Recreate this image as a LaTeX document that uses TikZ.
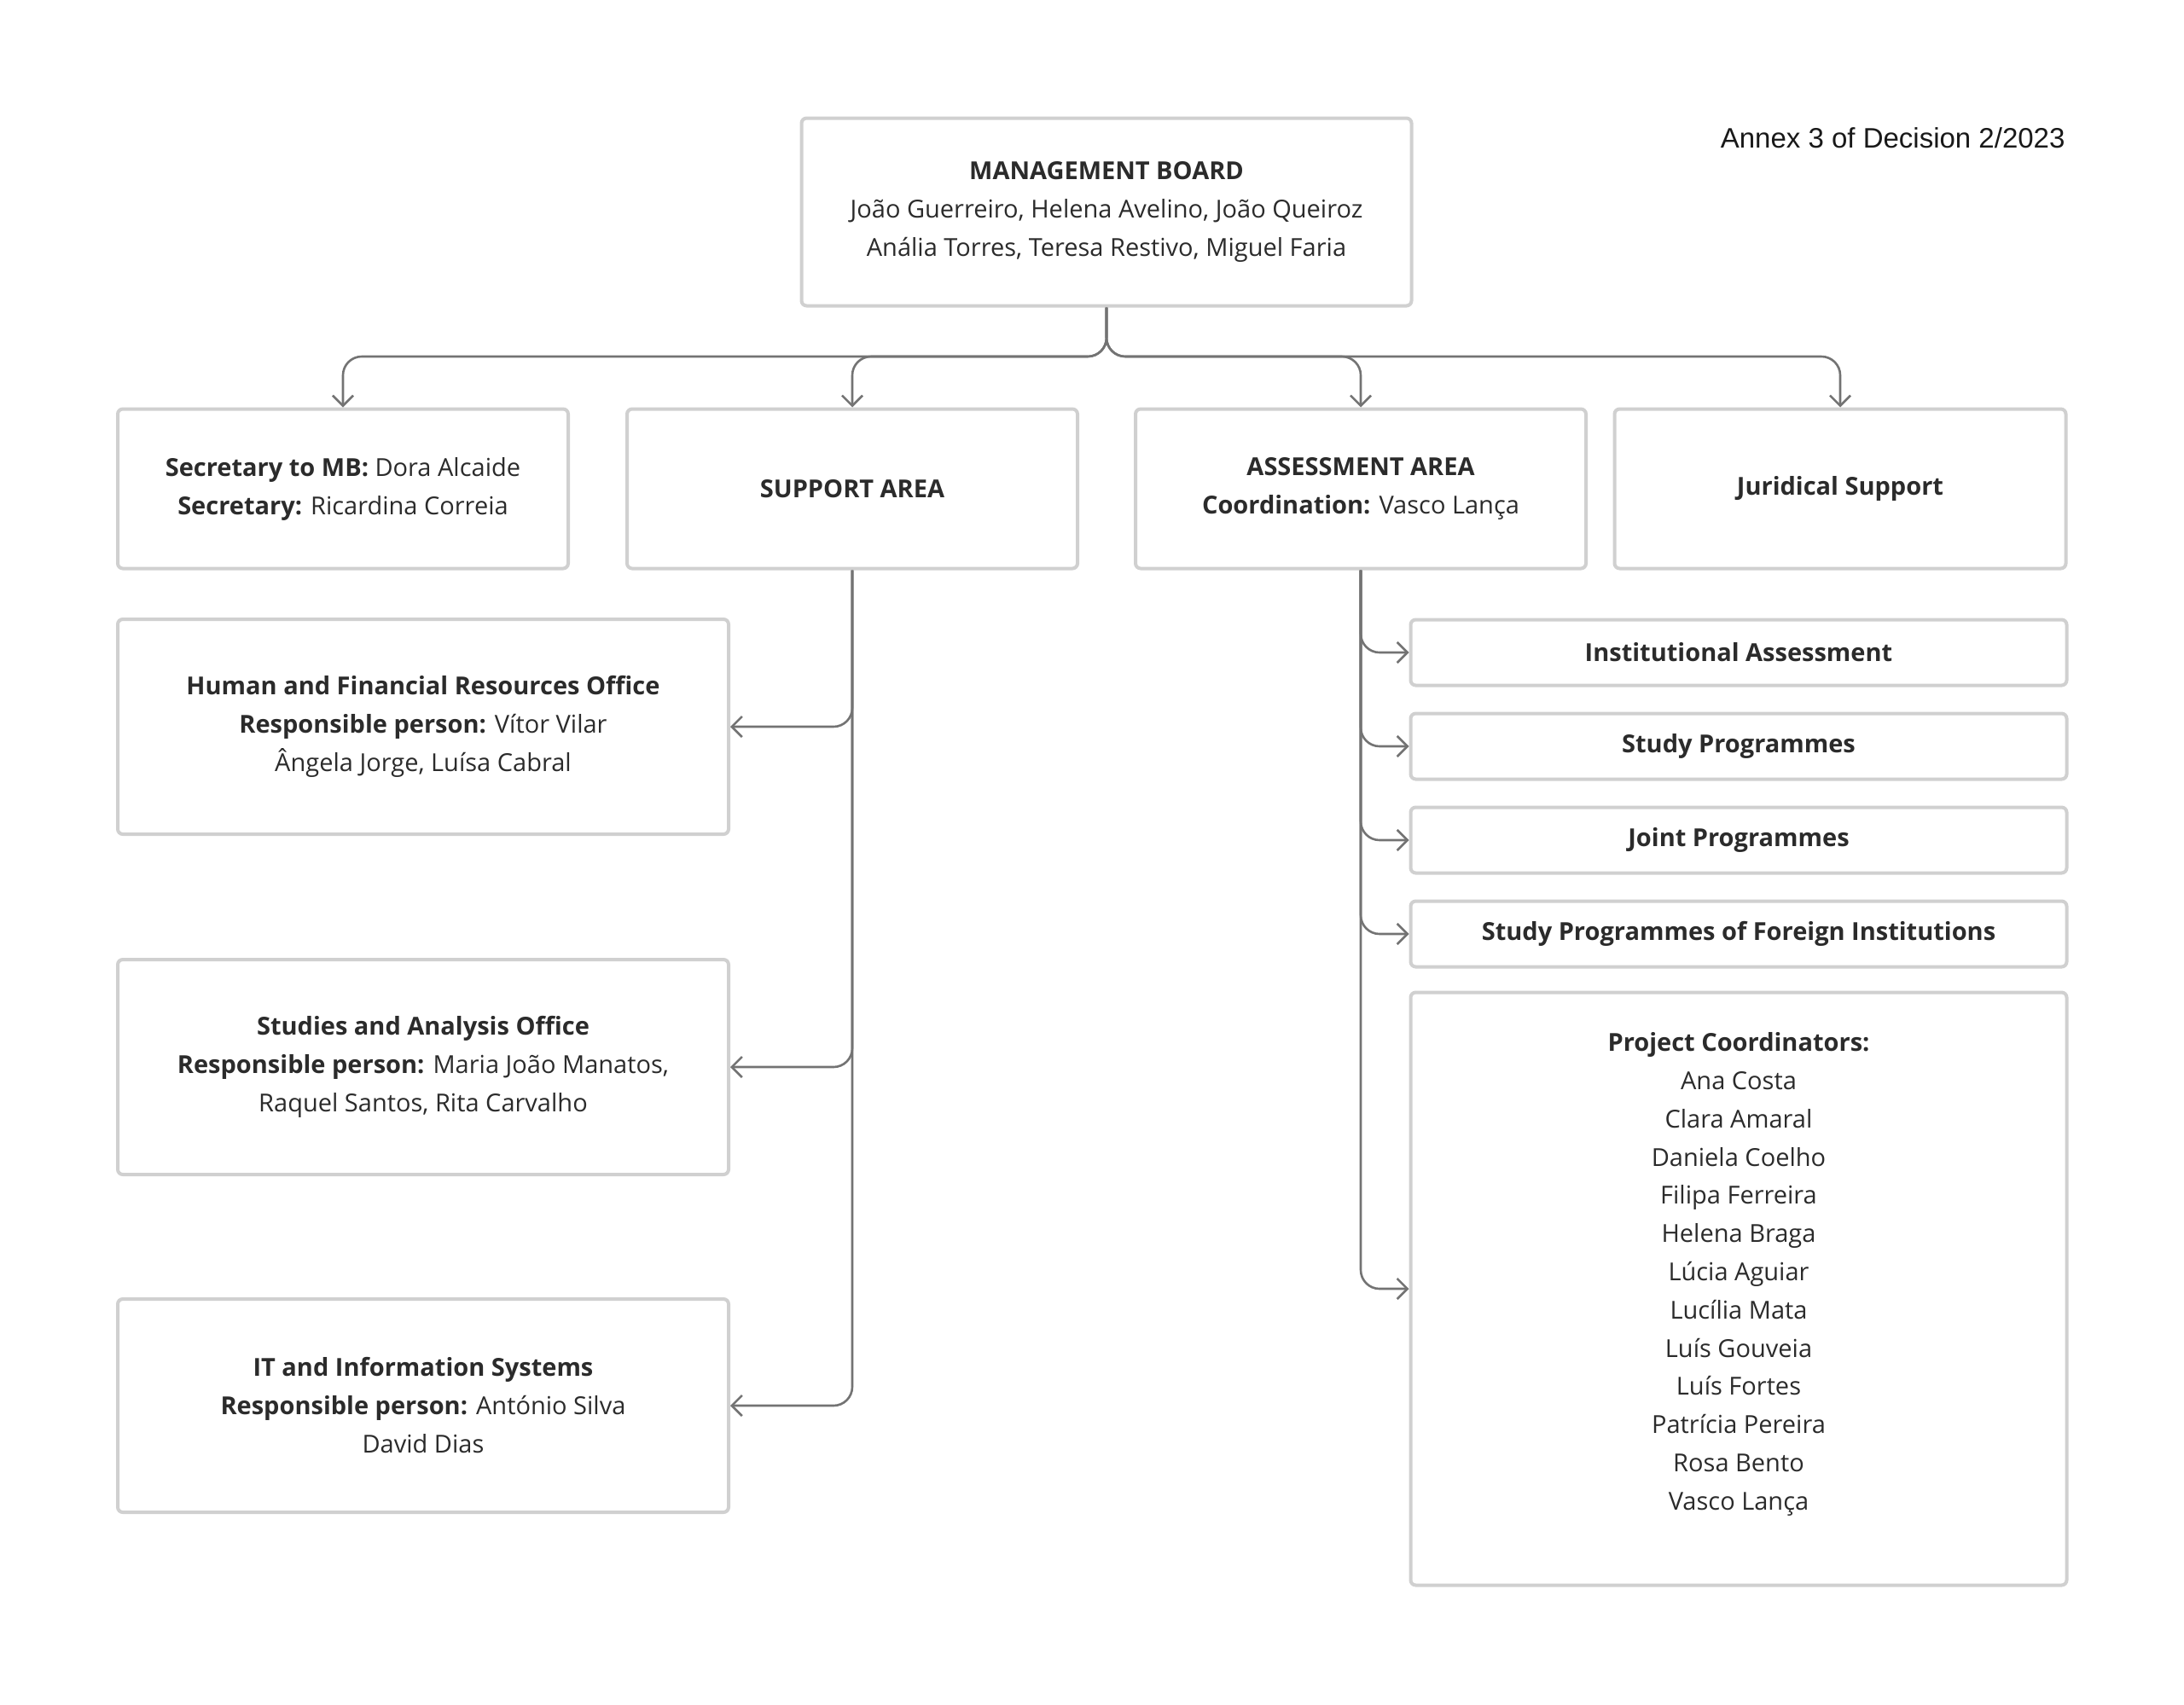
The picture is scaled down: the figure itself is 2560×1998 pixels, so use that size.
\documentclass[tikz,border=0pt]{standalone}
\usepackage{fontspec}
\setmainfont{Open Sans}
\newfontfamily\annexfont{Liberation Sans}
\usetikzlibrary{arrows.meta}
\definecolor{boxgray}{HTML}{D0D0D0}
\definecolor{linegray}{HTML}{737373}
\definecolor{txt}{HTML}{2B2B2B}
\begin{document}
\begin{tikzpicture}[x=1pt,y=-1pt,
  box/.style={draw=boxgray,line width=4pt,rounded corners=6pt,fill=white,
    inner sep=0pt,align=center,text=txt,
    font=\fontsize{29}{45}\selectfont,
    execute at begin node={\vspace*{9pt}}},
  conn/.style={draw=linegray,line width=2.6pt,rounded corners=22pt,
    -{Straight Barb[length=12pt,width=24pt,line width=2.6pt]}},
  wide/.style={minimum width=716pt},
  mid/.style={minimum width=528pt,minimum height=187pt},
  strip/.style={minimum width=769pt,minimum height=77pt}
]
\useasboundingbox[fill=white] (0,0) rectangle (2560,1998);

\node[anchor=east,text=black!90,font=\annexfont\fontsize{33}{40}\selectfont] (annex) at (2424,162) {Annex 3 of Decision 2/2023};

\node[box,minimum width=715pt,minimum height=220pt] (mb) at (1297,248.5)
  {\textbf{MANAGEMENT BOARD}\\João Guerreiro, Helena Avelino, João Queiroz\\Anália Torres, Teresa Restivo, Miguel Faria};

\node[box,mid] (sec) at (402,573) {\textbf{Secretary to MB:} Dora Alcaide\\\textbf{Secretary:} Ricardina Correia};
\node[box,mid] (sup) at (999,573) {\textbf{SUPPORT AREA}};
\node[box,mid] (ass) at (1595,573) {\textbf{ASSESSMENT AREA}\\\textbf{Coordination:} Vasco Lança};
\node[box,mid,minimum width=529pt] (jur) at (2157,573) {\textbf{Juridical Support}};

\node[box,wide,minimum height=252pt] (hfr) at (496,852)
  {\textbf{Human and Financial Resources Office}\\\textbf{Responsible person:} Vítor Vilar\\Ângela Jorge, Luísa Cabral};
\node[box,wide,minimum height=252pt] (stu) at (496,1251)
  {\textbf{Studies and Analysis Office}\\\textbf{Responsible person:} Maria João Manatos,\\Raquel Santos, Rita Carvalho};
\node[box,wide,minimum height=250pt] (it) at (496,1648)
  {\textbf{IT and Information Systems}\\\textbf{Responsible person:} António Silva\\David Dias};

\node[box,strip] (inst) at (2038,765) {\textbf{Institutional Assessment}};
\node[box,strip] (sp) at (2038,875) {\textbf{Study Programmes}};
\node[box,strip] (jp) at (2038,985) {\textbf{Joint Programmes}};
\node[box,strip] (sf) at (2038,1095) {\textbf{Study Programmes of Foreign Institutions}};
\node[box,minimum width=769pt,minimum height=695pt] (pc) at (2038,1511) {};
\node[align=center,text=txt,font=\fontsize{29}{44.8}\selectfont,inner sep=0pt] (pctext) at (2038,1494)
  {\textbf{Project Coordinators:}\\Ana Costa\\Clara Amaral\\Daniela Coelho\\Filipa Ferreira\\Helena Braga\\Lúcia Aguiar\\Lucília Mata\\Luís Gouveia\\Luís Fortes\\Patrícia Pereira\\Rosa Bento\\Vasco Lança};

\coordinate (bus) at (1297,418);
\draw[conn] (mb.south) -- (bus) -| (sec.north);
\draw[conn] (mb.south) -- (bus) -| (sup.north);
\draw[conn] (mb.south) -- (bus) -| (ass.north);
\draw[conn] (mb.south) -- (bus) -| (jur.north);

\draw[conn] (sup.south) |- (hfr.east);
\draw[conn] (sup.south) |- (stu.east);
\draw[conn] (sup.south) |- (it.east);

\draw[conn] (ass.south) |- (inst.west);
\draw[conn] (ass.south) |- (sp.west);
\draw[conn] (ass.south) |- (jp.west);
\draw[conn] (ass.south) |- (sf.west);
\draw[conn] (ass.south) |- (pc.west);
\end{tikzpicture}
\end{document}
